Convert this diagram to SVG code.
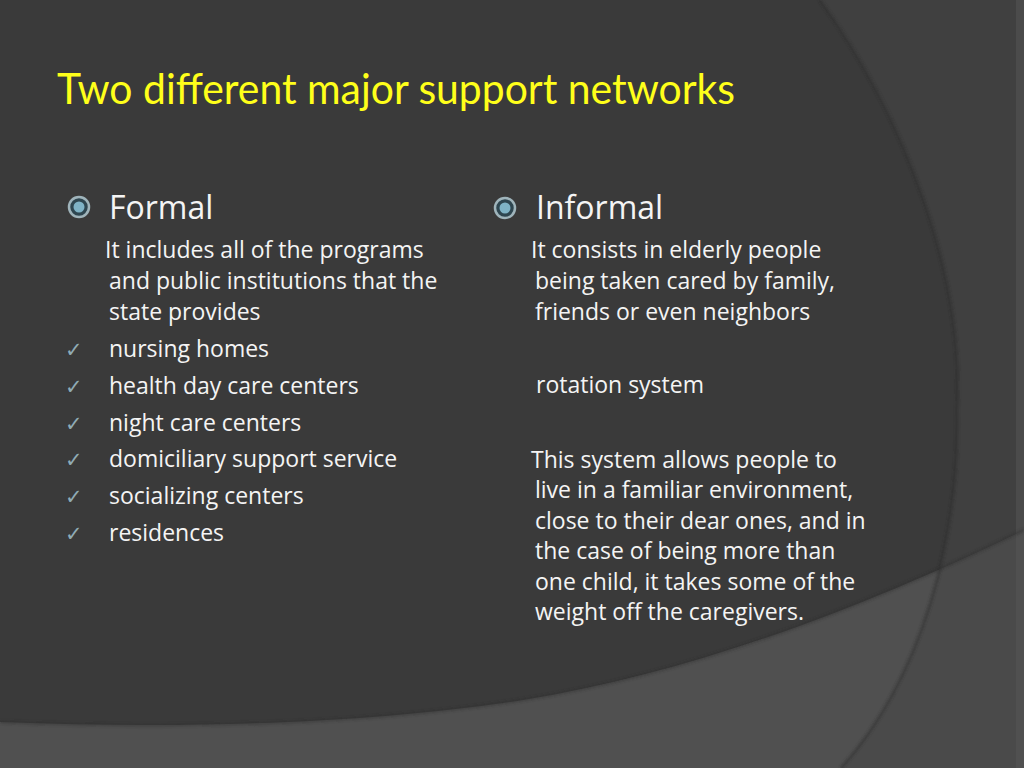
<svg xmlns="http://www.w3.org/2000/svg" width="1024" height="768" viewBox="0 0 1024 768">
<defs>
<style>
.t{font-family:"Open Sans","DejaVu Sans",sans-serif;fill:#f4f4f4;font-size:23px}
.h{font-family:"Open Sans","DejaVu Sans",sans-serif;fill:#f4f4f4;font-size:32px}
.ck{font-family:"DejaVu Sans",sans-serif;fill:#8fabb5;font-size:21px}
.title{font-family:"Lato","Open Sans",sans-serif;fill:#ffff1a;font-size:42px}
</style>
<filter id="sh" x="-10%" y="-10%" width="120%" height="120%"><feGaussianBlur stdDeviation="1.5"/></filter>
<clipPath id="above"><path d="M0,0 H1024 V530 C880,600 700,672 523,700 C380,722 200,730 0,722 Z"/></clipPath>
<clipPath id="below"><path d="M0,768 H1024 V530 C880,600 700,672 523,700 C380,722 200,730 0,722 Z"/></clipPath>
<clipPath id="right"><path d="M820,0 H1024 V768 H841 C920,680 960,540 957,410 C965,270 900,110 820,0 Z"/></clipPath>
<g id="bul"><circle r="10" fill="#2e4650" stroke="#9fb4bb" stroke-width="2.5"/><circle r="5.5" fill="#7fb3c6"/></g>
</defs>
<g id="background">
<rect width="1024" height="768" fill="#3a3a3a"/>
<rect width="1024" height="768" fill="#505050" clip-path="url(#below)"/>
<g clip-path="url(#right)">
<rect width="1024" height="768" fill="#404040" clip-path="url(#above)"/>
<rect width="1024" height="768" fill="#4a4a4a" clip-path="url(#below)"/>
</g>
<rect x="1016" y="0" width="8" height="768" fill="#555" opacity="0.5"/>
<path d="M820,0 C900,110 965,270 957,410 C960,540 920,680 841,768" fill="none" stroke="#2a2a2a" stroke-width="2" opacity="0.7" filter="url(#sh)"/>
<path d="M0,722 C200,730 380,722 523,700 C700,672 880,600 1024,530" fill="none" stroke="#2a2a2a" stroke-width="2" opacity="0.6" filter="url(#sh)"/>
</g>
<g id="title"><text class="title" x="57" y="104" textLength="678" lengthAdjust="spacingAndGlyphs">Two different major support networks</text></g>
<g id="formal">
<use href="#bul" x="79" y="207"/>
<text class="h" x="109" y="219">Formal</text>
<text class="t" x="105" y="258">It includes all of the programs</text>
<text class="t" x="109" y="289">and public institutions that the</text>
<text class="t" x="109" y="320">state provides</text>
<text class="ck" x="65" y="357">✓</text><text class="t" x="109" y="357">nursing homes</text>
<text class="ck" x="65" y="394">✓</text><text class="t" x="109" y="394">health day care centers</text>
<text class="ck" x="65" y="431">✓</text><text class="t" x="109" y="431">night care centers</text>
<text class="ck" x="65" y="467">✓</text><text class="t" x="109" y="467">domiciliary support service</text>
<text class="ck" x="65" y="504">✓</text><text class="t" x="109" y="504">socializing centers</text>
<text class="ck" x="65" y="541">✓</text><text class="t" x="109" y="541">residences</text>
</g>
<g id="informal">
<use href="#bul" x="505" y="208"/>
<text class="h" x="536" y="219">Informal</text>
<text class="t" x="531" y="258">It consists in elderly people</text>
<text class="t" x="535" y="289">being taken cared by family,</text>
<text class="t" x="535" y="320">friends or even neighbors</text>
<text class="t" x="536" y="393">rotation system</text>
<text class="t" x="531" y="468">This system allows people to</text>
<text class="t" x="535" y="498">live in a familiar environment,</text>
<text class="t" x="535" y="529">close to their dear ones, and in</text>
<text class="t" x="535" y="559">the case of being more than</text>
<text class="t" x="535" y="590">one child, it takes some of the</text>
<text class="t" x="535" y="620">weight off the caregivers.</text>
</g>
</svg>
